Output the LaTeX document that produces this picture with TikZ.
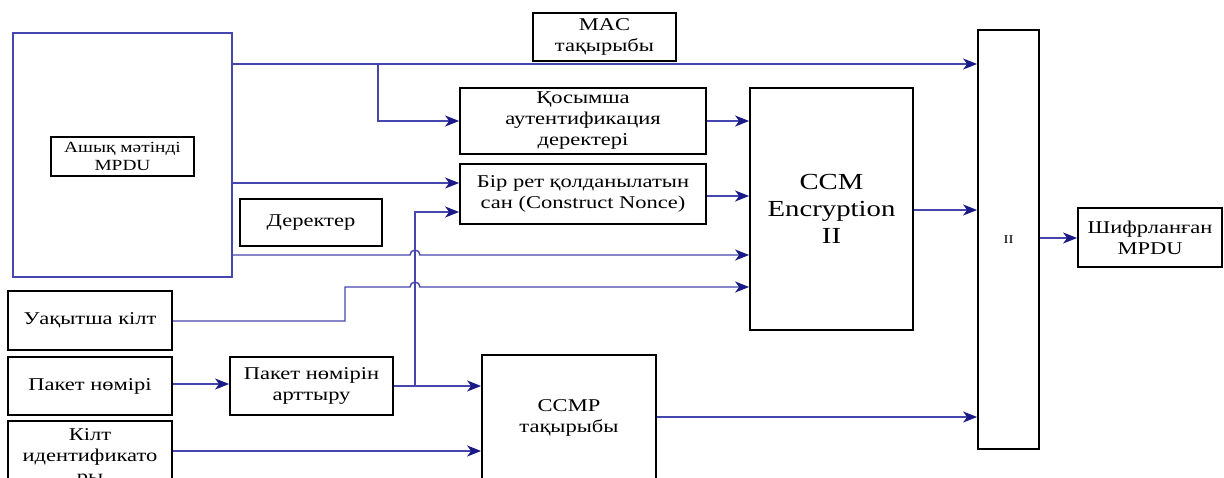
\documentclass[tikz,border=0pt]{standalone}
\usepackage{fontspec}
\setmainfont{Liberation Serif}[FakeStretch=1.25]
\usetikzlibrary{arrows.meta,calc}
\definecolor{lineblue}{RGB}{70,70,175}
\definecolor{tipblue}{RGB}{25,25,135}
\begin{document}
\begin{tikzpicture}[x=1pt,y=1pt,
  box/.style={draw=black,line width=1.8pt,fill=white,inner sep=0pt,align=center,font=\fontsize{18}{21}\selectfont},
  conn/.style={draw=lineblue,line width=1.4pt},
  arr/.style={conn,-{Stealth[length=14pt,width=11pt,inset=4pt,color=tipblue]}}]
\clip (0,0) rectangle (1224,-477);
\fill[white] (0,0) rectangle (1224,-477);
% big plaintext frame
\node[draw=lineblue,line width=1.4pt,minimum width=219pt,minimum height=244pt,inner sep=0pt] (plain) at (122.5,-155) {};
\node[box,minimum width=143pt,minimum height=39pt,font=\fontsize{15.5}{18}\selectfont] (mpdu) at (122.5,-156.5) {Ашық мәтінді\\MPDU};
\node[box,minimum width=143pt,minimum height=48pt] (mac) at (604.5,-37) {MAC\\тақырыбы};
\node[box,minimum width=246pt,minimum height=66pt] (aad) at (583,-121) {Қосымша\\аутентификация\\деректері};
\node[box,minimum width=246pt,minimum height=60pt] (nonce) at (583,-194) {Бір рет қолданылатын\\сан (Construct Nonce)};
\node[box,minimum width=142pt,minimum height=47pt] (data) at (311,-222.5) {Деректер};
\node[box,minimum width=163pt,minimum height=242pt,font=\fontsize{23}{27}\selectfont] (ccm) at (831.5,-209) {CCM\\Encryption\\II};
\node[box,minimum width=61pt,minimum height=419pt,font=\fontsize{12}{14}\selectfont] (ii) at (1008.5,-239.5) {II};
\node[box,minimum width=144pt,minimum height=59pt] (out) at (1150,-237.5) {Шифрланған\\MPDU};
\node[box,minimum width=164pt,minimum height=59pt] (tk) at (90,-320.5) {Уақытша кілт};
\node[box,minimum width=164pt,minimum height=58pt] (pn) at (90,-386) {Пакет нөмірі};
\node[box,minimum width=163pt,minimum height=58pt] (inc) at (311.5,-386) {Пакет нөмірін\\арттыру};
\node[box,minimum width=164pt,minimum height=72pt] (kid) at (90,-457) {Кілт\\идентификато\\ры};
\node[box,minimum width=174pt,minimum height=126pt] (ccmp) at (569,-418) {CCMP\\тақырыбы};
% junction coordinates
\coordinate (b1) at (378,-64);
\coordinate (j1) at (415,-386);
\coordinate (t1) at (345,-321);
% connectors
\draw[arr] (plain.east |- 0,-64) -- (ii.west |- 0,-64);
\draw[arr] (b1) |- (aad.west |- 0,-121);
\draw[arr] (plain.east |- 0,-183) -- (nonce.west |- 0,-183);
\draw[arr] (plain.east |- 0,-255) -- (410,-255) arc[start angle=180,end angle=0,radius=5] -- (ccm.west |- 0,-255);
\draw[arr] (tk.east |- 0,-321) -- (t1) |- (410,-287) arc[start angle=180,end angle=0,radius=5] -- (ccm.west |- 0,-287);
\draw[arr] (pn.east |- 0,-384) -- (inc.west |- 0,-384);
\draw[arr] (inc.east |- 0,-386) -- (ccmp.west |- 0,-386);
\draw[arr] (j1) |- (nonce.west |- 0,-212);
\draw[arr] (kid.east |- 0,-451) -- (ccmp.west |- 0,-451);
\draw[arr] (aad.east |- 0,-121) -- (ccm.west |- 0,-121);
\draw[arr] (nonce.east |- 0,-196) -- (ccm.west |- 0,-196);
\draw[arr] (ccm.east |- 0,-210) -- (ii.west |- 0,-210);
\draw[arr] (ccmp.east |- 0,-417) -- (ii.west |- 0,-417);
\draw[arr] (ii.east |- 0,-238) -- (out.west |- 0,-238);
\end{tikzpicture}
\end{document}
